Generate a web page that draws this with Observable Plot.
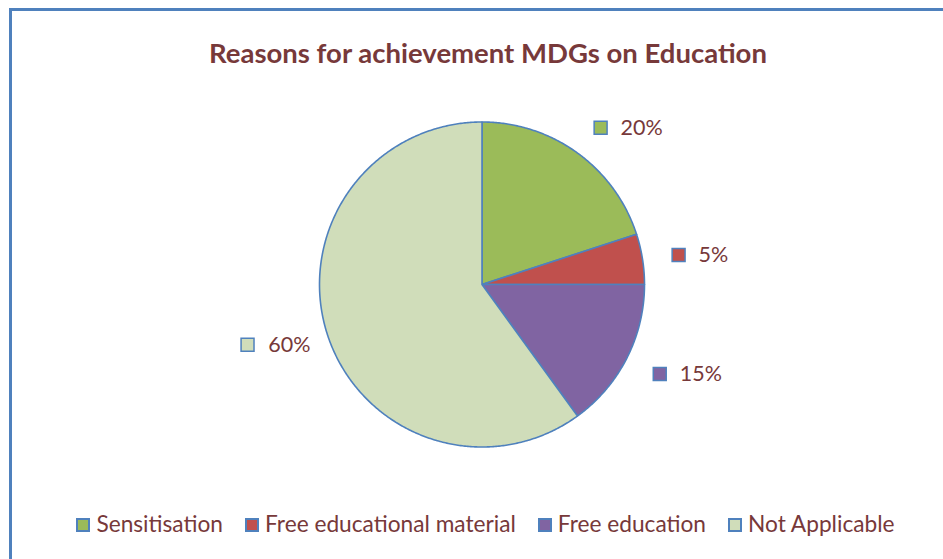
<!DOCTYPE html>
<html><head><meta charset="utf-8">
<script src="https://cdn.jsdelivr.net/npm/d3@7"></script>
<script src="https://cdn.jsdelivr.net/npm/@observablehq/plot@0.6"></script>
<style>
body{margin:0;background:#fff;font-family:Lato,"Open Sans",sans-serif;}
#frame{position:relative;width:943px;height:559px;overflow:hidden;background:#fff}
#border{position:absolute;left:9px;top:8px;width:2000px;height:2000px;border-left:3px solid #4F81BD;border-top:3px solid #4F81BD;box-sizing:border-box}
#title{position:absolute;left:0;top:37px;width:976px;text-align:center;font-weight:bold;font-size:27.5px;line-height:32px;color:#77393A;white-space:nowrap}
#chart{position:absolute;left:0;top:100px}
#legend{position:absolute;left:0;top:510px;width:971px;display:flex;justify-content:center;gap:22px;font-size:22.7px;line-height:28px;color:#77393A;white-space:nowrap}
.item{display:flex;align-items:center}
.sw{width:14px;height:14px;border:2px solid #4F81BD;box-sizing:border-box;margin-right:6px;margin-top:2px}
</style>
</head><body>
<div id="frame">
  <div id="border"></div>
  <div id="title"></div>
  <div id="chart"></div>
  <div id="legend"></div>
</div>
<script>
const title = "Reasons for achievement MDGs on Education";
const categories = ["Sensitisation", "Free educational material", "Free education", "Not Applicable"];
const values = [20, 5, 15, 60];
const labels = ["20%", "5%", "15%", "60%"];
const colors = ["#9BBB59", "#C0504D", "#8064A2", "#D0DDBA"];

document.getElementById("title").textContent = title;

const arcs = d3.pie().sort(null).value(d => d)(values);
const slicePts = [];
arcs.forEach((a, i) => {
  const cat = categories[i];
  slicePts.push({cat, x: 0, y: 0});
  const n = Math.max(2, Math.ceil((a.endAngle - a.startAngle) / (Math.PI / 360)));
  for (let k = 0; k <= n; k++) {
    const t = a.startAngle + (a.endAngle - a.startAngle) * k / n;
    slicePts.push({cat, x: Math.sin(t), y: Math.cos(t)});
  }
  slicePts.push({cat, x: 0, y: 0});
});

const labelData = arcs.map((a, i) => {
  const m = (a.startAngle + a.endAngle) / 2;
  const R = 1.2;
  return {cat: categories[i], label: labels[i], px: R * Math.sin(m), py: R * Math.cos(m), right: Math.sin(m) >= 0};
});
const rightL = labelData.filter(d => d.right);
const leftL = labelData.filter(d => !d.right);

const cx = 481.5, cy = 184, r = 162.5;
const chart = Plot.plot({
  width: 943,
  height: 390,
  margin: 0,
  x: {domain: [-1, 1], range: [cx - r, cx + r], axis: null},
  y: {domain: [-1, 1], range: [cy + r, cy - r], axis: null},
  color: {domain: categories, range: colors},
  style: {fontFamily: "Lato", background: "transparent"},
  marks: [
    Plot.line(slicePts, {x: "x", y: "y", z: "cat", fill: "cat", stroke: "#4F81BD", strokeWidth: 1.6, strokeLinejoin: "round"}),
    Plot.dot(rightL, {x: "px", y: "py", dx: 4, dy: 1, symbol: "square", r: 7.3, fill: "cat", stroke: "#4F81BD", strokeWidth: 1.5}),
    Plot.text(rightL, {x: "px", y: "py", dx: 24, dy: 1, text: "label", textAnchor: "start", fontSize: 21.5, fill: "#77393A"}),
    Plot.dot(leftL, {x: "px", y: "py", dx: -49, symbol: "square", r: 7.3, fill: "cat", stroke: "#4F81BD", strokeWidth: 1.5}),
    Plot.text(leftL, {x: "px", y: "py", dx: 14, text: "label", textAnchor: "end", fontSize: 21.5, fill: "#77393A"})
  ]
});
document.getElementById("chart").appendChild(chart);

const legend = document.getElementById("legend");
categories.forEach((c, i) => {
  const it = document.createElement("div");
  it.className = "item";
  const sw = document.createElement("span");
  sw.className = "sw";
  sw.style.background = colors[i];
  const tx = document.createElement("span");
  tx.textContent = c;
  it.appendChild(sw); it.appendChild(tx);
  legend.appendChild(it);
});
</script>
</body></html>
